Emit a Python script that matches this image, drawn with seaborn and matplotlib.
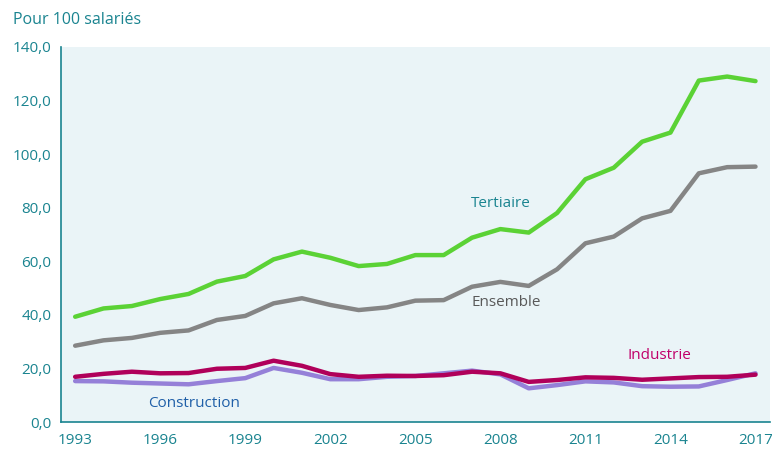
import numpy as np
import pandas as pd
import seaborn as sns
import matplotlib.pyplot as plt
from matplotlib.ticker import FuncFormatter, MultipleLocator

years = list(range(1993, 2018))
tertiaire = [39.3, 42.4, 43.3, 45.9, 47.8, 52.4, 54.5, 60.7, 63.6, 61.3, 58.2, 59.0, 62.3,
             62.3, 68.8, 72.0, 70.7, 78.0, 90.6, 94.9, 104.6, 108.0, 127.4, 128.9, 127.2]
ensemble = [28.5, 30.5, 31.4, 33.3, 34.2, 38.1, 39.6, 44.3, 46.2, 43.7, 41.8, 42.8, 45.3,
            45.5, 50.5, 52.3, 50.8, 57.0, 66.7, 69.2, 76.0, 78.8, 92.8, 95.1, 95.3]
industrie = [16.9, 18.0, 18.8, 18.2, 18.3, 19.9, 20.2, 22.9, 21.0, 17.9, 16.9, 17.3, 17.2,
             17.5, 18.8, 18.2, 15.0, 15.7, 16.7, 16.5, 15.8, 16.3, 16.8, 16.9, 17.7]
construction = [15.3, 15.2, 14.7, 14.4, 14.1, 15.3, 16.4, 20.2, 18.4, 16.0, 16.0, 16.9, 17.2,
                18.2, 19.2, 17.8, 12.6, 13.8, 15.2, 14.8, 13.4, 13.2, 13.3, 15.7, 18.2]

series = {
    "Construction": construction,
    "Industrie": industrie,
    "Ensemble": ensemble,
    "Tertiaire": tertiaire,
}
line_colors = {
    "Construction": "#9580d8",
    "Industrie": "#b0005a",
    "Ensemble": "#858585",
    "Tertiaire": "#5bd235",
}

TEAL = "#1a8490"

sns.set_style("white")
plt.rcParams["font.family"] = ["Open Sans", "DejaVu Sans"]

df = pd.DataFrame({"annee": years, **series}).melt(id_vars="annee", var_name="secteur", value_name="taux")

fig = plt.figure(figsize=(7.72, 4.5), dpi=100)
ax = fig.add_axes([0.079, 0.062, 0.918, 0.834])
ax.set_facecolor("#eaf4f7")

for name in series:
    sub = df[df["secteur"] == name]
    sns.lineplot(data=sub, x="annee", y="taux", ax=ax, color=line_colors[name],
                 linewidth=3.2, solid_capstyle="round", solid_joinstyle="round")

ax.set_xlim(1992.5, 2017.5)
ax.set_ylim(0, 140)
ax.set_xlabel("")
ax.set_ylabel("")

ax.yaxis.set_major_locator(MultipleLocator(20))
ax.yaxis.set_major_formatter(FuncFormatter(lambda v, p: f"{v:.1f}".replace(".", ",")))
ax.set_xticks(years[::3])
ax.set_xticks(np.arange(1992.5, 2018, 1), minor=True)
ax.tick_params(axis="x", which="major", length=0, pad=8, labelsize=11, labelcolor=TEAL)
ax.tick_params(axis="x", which="minor", length=5, width=1, color=TEAL, direction="out")
ax.tick_params(axis="y", length=5, width=1, color=TEAL, direction="out", pad=2,
               labelsize=11, labelcolor=TEAL)

for side in ["top", "right"]:
    ax.spines[side].set_visible(False)
for side in ["left", "bottom"]:
    ax.spines[side].set_color(TEAL)
    ax.spines[side].set_linewidth(1.2)

ax.text(2008.0, 81.4, "Tertiaire", color=TEAL, fontsize=11, ha="center", va="center")
ax.text(2008.2, 44.8, "Ensemble", color="#595959", fontsize=11, ha="center", va="center")
ax.text(2013.6, 25.0, "Industrie", color="#c0006a", fontsize=11, ha="center", va="center")
ax.text(1997.2, 7.1, "Construction", color="#1f5fa8", fontsize=11, ha="center", va="center")

fig.text(0.017, 0.955, "Pour 100 salariés", color=TEAL, fontsize=11.5, ha="left", va="center")

fig.savefig("out.png", dpi=100)
